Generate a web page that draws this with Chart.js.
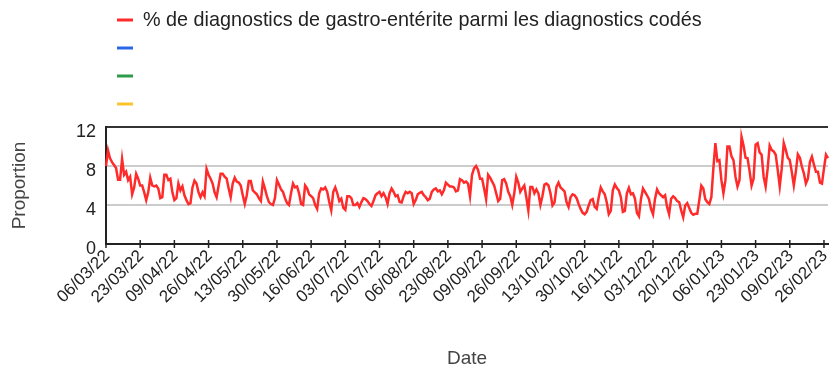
<!doctype html>
<html>
<head>
<meta charset="UTF-8">
<script src="https://cdn.jsdelivr.net/npm/chart.js"></script>
<style>
  body { margin: 0; background: #fff; }
</style>
</head>
<body>
<canvas id="gastro_graph" width="831" height="365"></canvas>

<script>
    // Daily share of gastro-enteritis among coded diagnostics, 06/03/22 -> 28/02/23
    const startDate = Date.UTC(2022, 2, 6);
    const gastroShare = [
        8.0, 9.6, 8.8, 8.4, 8.1, 7.8, 6.6, 6.6, 8.7, 7.1,
        7.4, 6.55, 6.9, 5.1, 5.8, 7.2, 6.7, 6.0, 6.0, 5.3,
        4.5, 5.3, 6.8, 6.0, 5.9, 6.0, 5.7, 4.7, 4.8, 7.1,
        7.1, 6.55, 6.7, 5.3, 4.5, 4.7, 6.2, 5.5, 5.9, 5.0,
        4.5, 4.1, 4.2, 5.8, 6.5, 6.2, 5.3, 4.8, 5.3, 4.9,
        7.7, 7.1, 6.7, 6.2, 5.3, 4.8, 6.0, 7.2, 7.2, 6.9,
        6.7, 5.7, 4.8, 6.2, 6.8, 6.4, 6.3, 6.0, 5.0, 4.1,
        5.0, 6.45, 6.45, 5.5, 5.3, 5.1, 4.7, 4.4, 6.4, 5.7,
        4.9, 4.3, 4.1, 4.0, 4.7, 6.55, 6.1, 5.6, 5.35, 4.7,
        4.2, 4.0, 5.2, 6.2, 5.8, 5.9, 5.2, 4.1, 4.0, 6.0,
        5.7, 5.1, 4.9, 4.7, 4.0, 3.6, 5.2, 5.7, 5.6, 5.8,
        5.35, 4.3, 3.45, 5.35, 5.8, 5.2, 4.4, 4.65, 3.7, 3.5,
        4.9, 4.9, 4.7, 4.0, 4.0, 4.2, 3.8, 4.3, 4.7, 4.6,
        4.4, 4.1, 3.9, 4.4, 5.0, 5.2, 5.35, 4.9, 5.2, 4.8,
        4.1, 5.2, 5.7, 5.35, 4.9, 5.0, 4.3, 4.25, 4.9, 5.35,
        5.2, 5.35, 5.2, 4.1, 4.5, 5.1, 5.25, 5.35, 5.0, 4.8,
        4.5, 4.65, 5.35, 5.6, 5.7, 5.4, 5.5, 5.1, 5.5, 6.3,
        6.1, 5.9, 5.9, 5.8, 5.4, 5.5, 6.65, 6.55, 6.3, 6.4,
        6.2, 4.9, 7.1, 7.75, 8.0, 7.6, 6.7, 6.7, 5.7, 4.6,
        7.1, 6.8, 6.4, 6.0, 5.2, 4.4, 4.65, 6.55, 6.65, 6.2,
        5.35, 4.9, 4.0, 5.2, 6.9, 6.3, 5.35, 5.7, 6.0, 4.8,
        3.45, 5.85, 5.85, 5.2, 5.6, 5.2, 4.0, 4.9, 6.1, 6.2,
        6.0, 5.2, 3.95, 4.25, 5.85, 6.3, 5.8, 5.6, 5.4, 4.3,
        3.8, 4.8, 5.1, 5.0, 4.7, 4.1, 3.6, 3.2, 3.05, 3.3,
        3.95, 4.5, 4.6, 3.8, 3.6, 4.8, 5.8, 5.4, 5.1, 4.25,
        3.05, 3.4, 5.5, 6.1, 5.75, 5.5, 4.8, 3.3, 3.4, 5.2,
        5.75, 5.1, 5.2, 4.65, 3.2, 2.85, 4.6, 5.7, 5.35, 5.0,
        4.6, 3.6, 3.05, 4.65, 5.6, 5.2, 5.0, 4.8, 5.0, 3.8,
        3.05, 4.65, 4.9, 4.7, 4.4, 4.3, 3.45, 2.75, 3.95, 4.2,
        3.7, 3.2, 3.0, 3.1, 3.1, 4.5, 6.0, 5.7, 4.6, 4.3,
        4.1, 4.8, 7.75, 10.35, 8.5, 8.6, 6.55, 5.2, 6.55, 10.0,
        10.0, 9.0, 8.6, 6.9, 5.9, 6.55, 11.0, 10.1, 8.85, 8.8,
        7.5, 6.0, 6.7, 10.2, 10.35, 9.4, 9.15, 6.9, 5.9, 7.75,
        10.1, 9.65, 9.5, 9.15, 7.6, 5.9, 7.75, 10.35, 9.65, 8.85,
        8.6, 7.4, 6.0, 7.4, 9.2, 8.85, 7.95, 7.25, 6.2, 6.7,
        8.4, 8.95, 8.15, 7.4, 7.4, 6.3, 6.2, 7.75, 9.15, 8.8
    ];

    // one category per day, dd/mm/yy
    const pad = n => String(n).padStart(2, '0');
    const dayLabels = gastroShare.map((v, i) => {
        const d = new Date(startDate + i * 86400000);
        return pad(d.getUTCDate()) + '/' + pad(d.getUTCMonth() + 1) + '/' + String(d.getUTCFullYear()).slice(2);
    });

    const tickLabels = [
        '06/03/22', '23/03/22', '09/04/22', '26/04/22', '13/05/22', '30/05/22',
        '16/06/22', '03/07/22', '20/07/22', '06/08/22', '23/08/22', '09/09/22',
        '26/09/22', '13/10/22', '30/10/22', '16/11/22', '03/12/22', '20/12/22',
        '06/01/23', '23/01/23', '09/02/23', '26/02/23'
    ];
    const yTicks = [0, 4, 8, 12];

    const seriesNames = ['% de diagnostics de gastro-entérite parmi les diagnostics codés', '', '', ''];
    const seriesColors = ['#ff2b2b', '#2a67e6', '#2e9a4c', '#fbc42a'];

    const FONT = '"Liberation Sans", Arial, sans-serif';

    // legend stacked one entry per row above the plot
    const stackedLegend = {
        id: 'stackedLegend',
        afterDraw(chart) {
            const ctx = chart.ctx;
            chart.data.datasets.forEach((ds, i) => {
                const y = 20 + i * 28;
                ctx.save();
                ctx.strokeStyle = ds.borderColor;
                ctx.lineWidth = 3;
                ctx.beginPath();
                ctx.moveTo(117, y);
                ctx.lineTo(133, y);
                ctx.stroke();
                ctx.fillStyle = '#222';
                ctx.font = '19.8px ' + FONT;
                ctx.textBaseline = 'middle';
                ctx.fillText(ds.label, 143, y + 1);
                ctx.restore();
            });
        }
    };

    // small tick marks crossing the date axis
    const dateTicks = {
        id: 'dateTicks',
        afterDraw(chart) {
            const x = chart.scales.x;
            const ctx = chart.ctx;
            ctx.save();
            ctx.strokeStyle = '#222';
            ctx.lineWidth = 1.5;
            dayLabels.forEach((lbl, i) => {
                if (!tickLabels.includes(lbl)) return;
                const px = x.getPixelForTick(i);
                ctx.beginPath();
                ctx.moveTo(px, x.top - 4);
                ctx.lineTo(px, x.top + 4);
                ctx.stroke();
            });
            ctx.restore();
        }
    };

    new Chart(document.getElementById('gastro_graph'), {
        type: 'line',
        data: {
            labels: dayLabels,
            datasets: seriesNames.map((name, i) => ({
                label: name,
                data: i === 0 ? gastroShare : [],
                borderColor: seriesColors[i],
                borderWidth: 2.5,
                pointRadius: 0,
                tension: 0,
                fill: false
            }))
        },
        options: {
            responsive: false,
            animation: false,
            layout: { padding: { left: 0, right: 3, top: 127, bottom: 0 } },
            plugins: {
                legend: { display: false },
                tooltip: { enabled: false }
            },
            scales: {
                x: {
                    afterFit: s => { s.height = 121; s.paddingLeft = 0; s.paddingRight = 0; },
                    grid: { display: false },
                    border: { display: true, color: '#222', width: 2 },
                    ticks: {
                        autoSkip: false,
                        minRotation: 45,
                        maxRotation: 45,
                        padding: -6,
                        labelOffset: 1,
                        color: '#222',
                        font: { family: FONT, size: 17 },
                        callback: function (val, idx) {
                            const lbl = dayLabels[idx];
                            return tickLabels.includes(lbl) ? lbl : '';
                        }
                    },
                    title: {
                        display: true,
                        text: 'Date',
                        color: '#444',
                        font: { family: FONT, size: 19 },
                        padding: { top: 0, bottom: -5 }
                    }
                },
                y: {
                    afterFit: s => { s.width = 106; },
                    min: 0,
                    max: 12,
                    afterBuildTicks: s => { s.ticks = yTicks.map(v => ({ value: v })); },
                    grid: {
                        drawTicks: false,
                        lineWidth: 2,
                        color: c => c.tick.value === 12 ? '#333' : (c.tick.value === 0 ? 'rgba(0,0,0,0)' : '#cccccc')
                    },
                    border: { display: true, color: '#222', width: 2 },
                    ticks: {
                        padding: 10,
                        labelOffset: 5,
                        color: '#222',
                        font: { family: FONT, size: 18 }
                    },
                    title: {
                        display: true,
                        text: 'Proportion',
                        color: '#444',
                        font: { family: FONT, size: 19 },
                        padding: { top: 8, bottom: 0 }
                    }
                }
            }
        },
        plugins: [stackedLegend, dateTicks]
    });
</script>
</body>
</html>
